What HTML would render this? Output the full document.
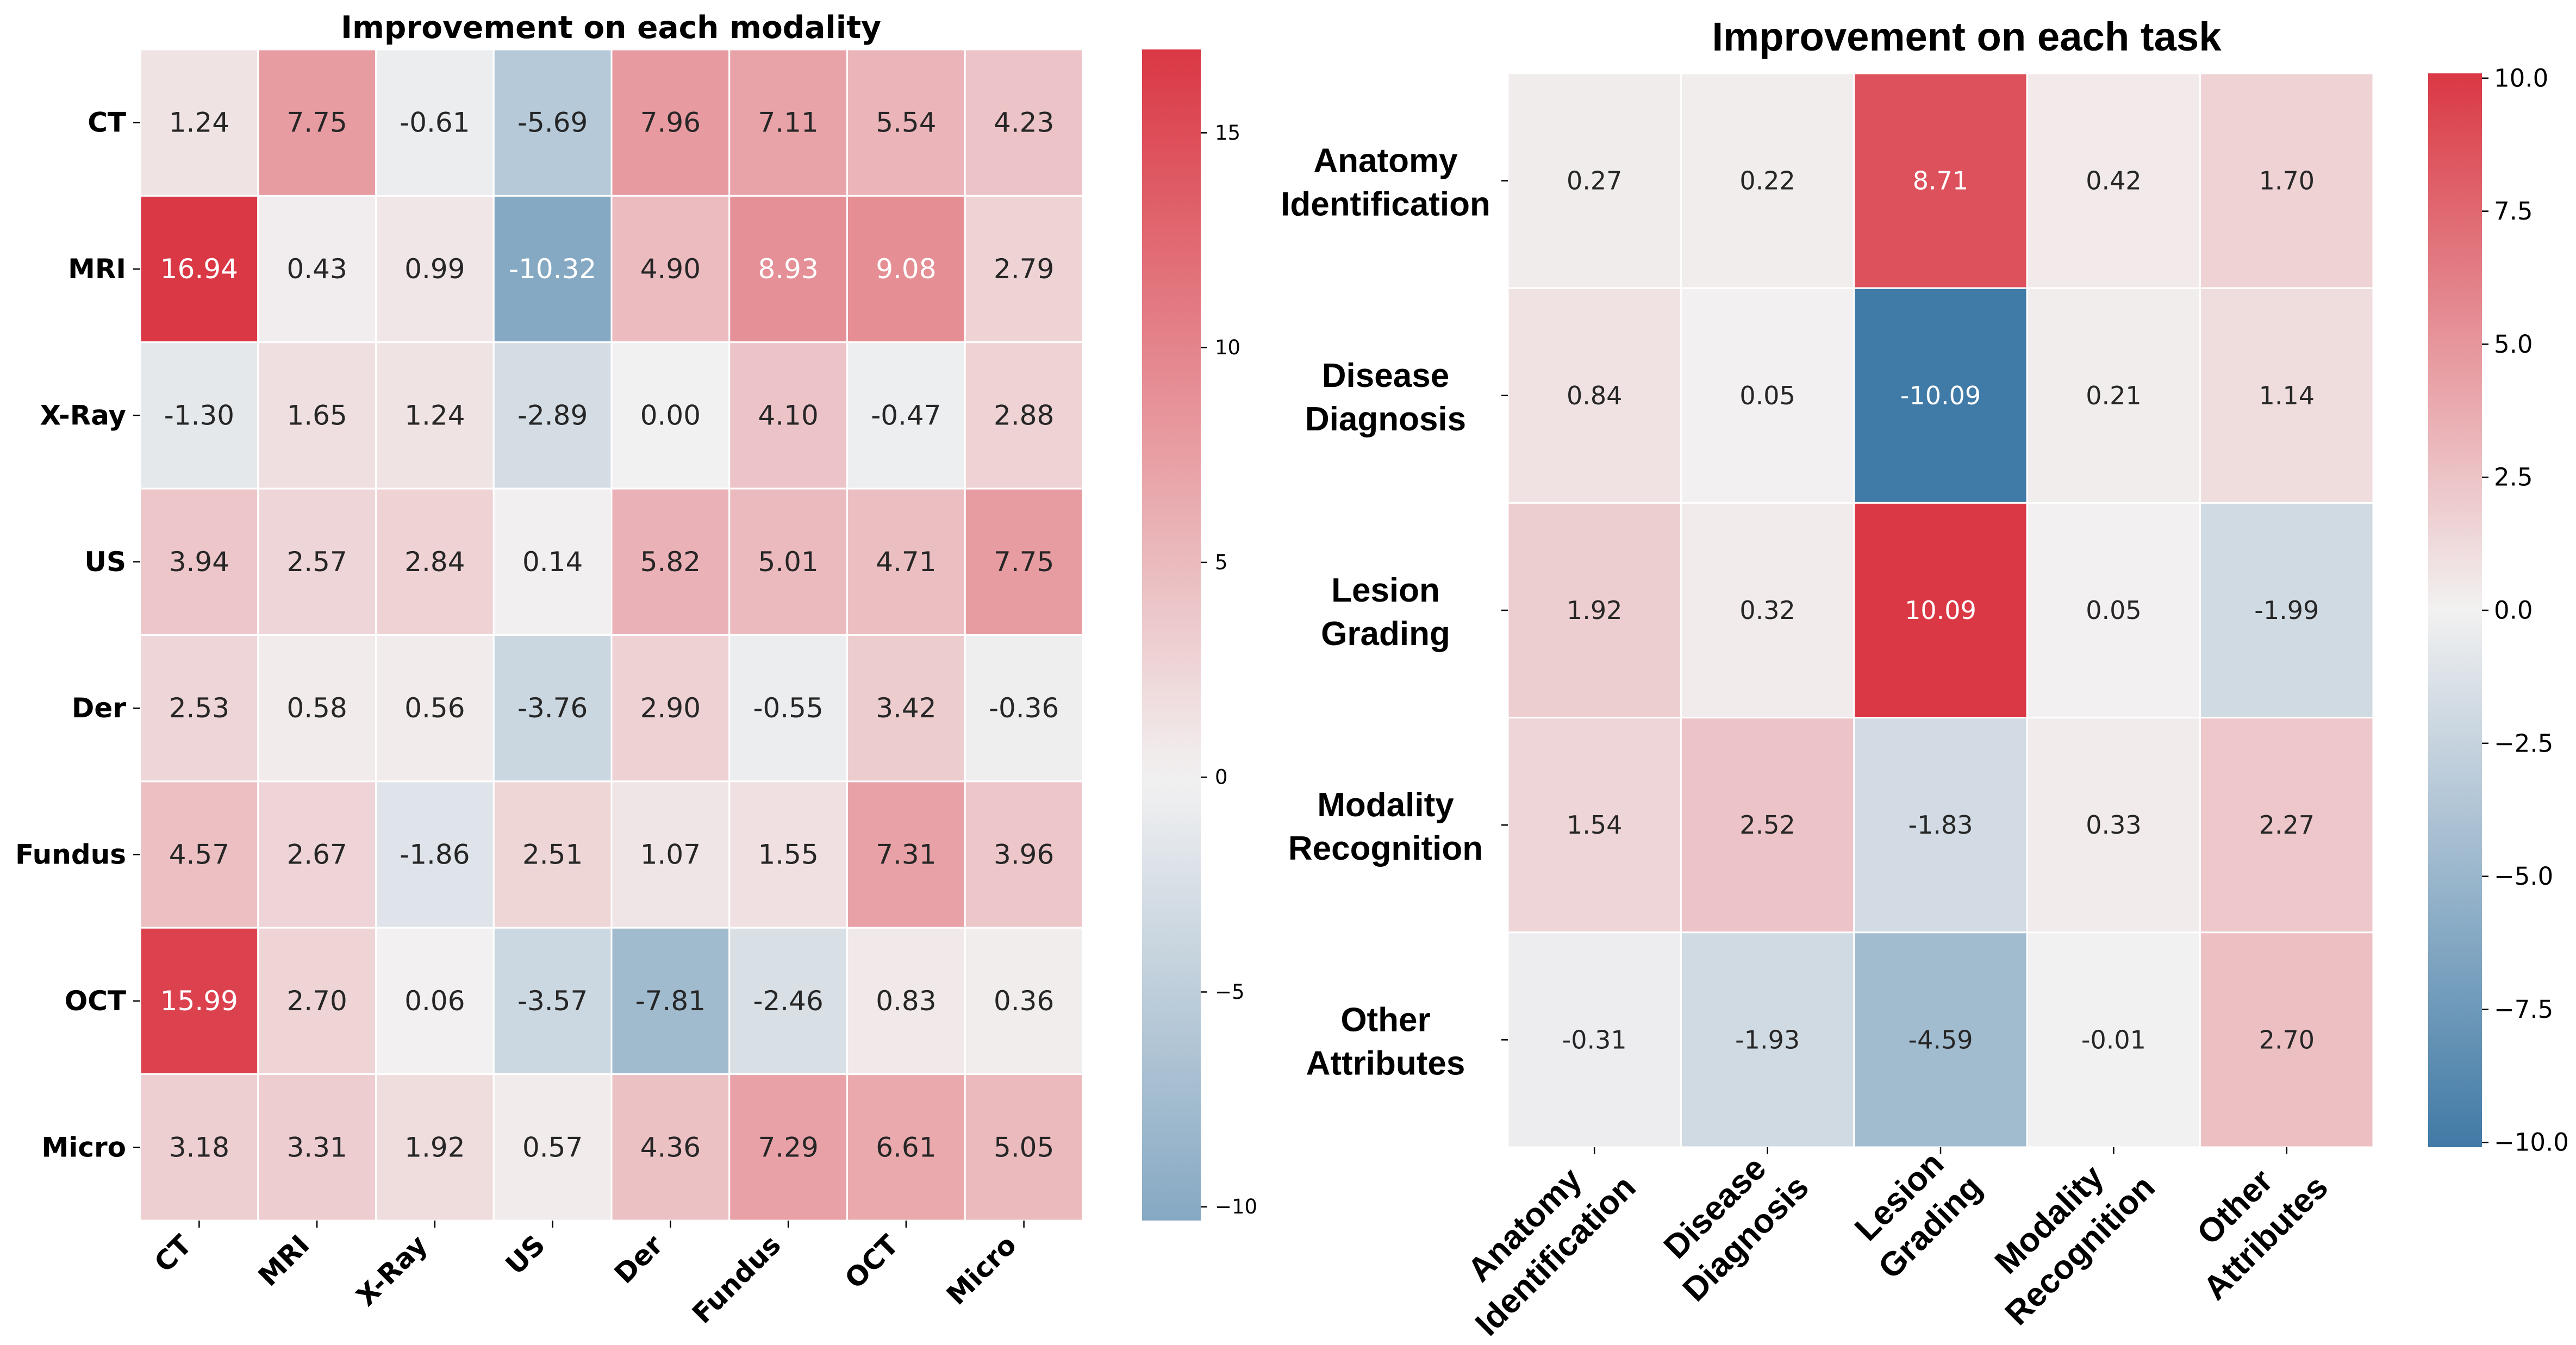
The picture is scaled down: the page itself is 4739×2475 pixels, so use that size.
<!DOCTYPE html>
<html><head><meta charset="utf-8"><style>
html,body{margin:0;padding:0;background:#fff;}
svg{display:block;}
</style></head><body>
<svg id="fig" xmlns="http://www.w3.org/2000/svg" width="4739" height="2475" viewBox="0 0 4739 2475">
<rect width="4739" height="2475" fill="#fff"/>
<defs>
<linearGradient id="gradL" x1="0" y1="1" x2="0" y2="0"></linearGradient>
<linearGradient id="gradR" x1="0" y1="1" x2="0" y2="0"></linearGradient>
</defs>
<text x="1124" y="70" text-anchor="middle" font-family="DejaVu Sans, sans-serif" font-weight="bold" font-size="57" textLength="994" lengthAdjust="spacingAndGlyphs">Improvement on each modality</text>
<text x="3618" y="93" text-anchor="middle" font-family="Liberation Sans, sans-serif" font-weight="bold" font-size="74" textLength="937" lengthAdjust="spacingAndGlyphs">Improvement on each task</text>
<g id="left"></g>
<g id="right"></g>
</svg>
<script>
// ---- data: left heatmap ----
const modRows = ["CT","MRI","X-Ray","US","Der","Fundus","OCT","Micro"];
const modCols = ["CT","MRI","X-Ray","US","Der","Fundus","OCT","Micro"];
const modValues = [
 [1.24,7.75,-0.61,-5.69,7.96,7.11,5.54,4.23],
 [16.94,0.43,0.99,-10.32,4.90,8.93,9.08,2.79],
 [-1.30,1.65,1.24,-2.89,0.00,4.10,-0.47,2.88],
 [3.94,2.57,2.84,0.14,5.82,5.01,4.71,7.75],
 [2.53,0.58,0.56,-3.76,2.90,-0.55,3.42,-0.36],
 [4.57,2.67,-1.86,2.51,1.07,1.55,7.31,3.96],
 [15.99,2.70,0.06,-3.57,-7.81,-2.46,0.83,0.36],
 [3.18,3.31,1.92,0.57,4.36,7.29,6.61,5.05]
];
const modTicks = [15,10,5,0,-5,-10];
// ---- data: right heatmap ----
const taskRows = [["Anatomy","Identification"],["Disease","Diagnosis"],["Lesion","Grading"],["Modality","Recognition"],["Other","Attributes"]];
const taskValues = [
 [0.27,0.22,8.71,0.42,1.70],
 [0.84,0.05,-10.09,0.21,1.14],
 [1.92,0.32,10.09,0.05,-1.99],
 [1.54,2.52,-1.83,0.33,2.27],
 [-0.31,-1.93,-4.59,-0.01,2.70]
];
const taskTicks = [10.0,7.5,5.0,2.5,0.0,-2.5,-5.0,-7.5,-10.0];

const NS="http://www.w3.org/2000/svg";
function mk(tag, attrs, parent){const e=document.createElementNS(NS,tag);for(const k in attrs)e.setAttribute(k,attrs[k]);parent.appendChild(e);return e;}
const BLUE=[64,122,166], MID=[242,241,241], RED=[218,56,68];
function cmap(t){
  t=Math.max(-1,Math.min(1,t));
  const e=t<0?BLUE:RED, a=Math.abs(t);
  return [0,1,2].map(i=>Math.round(MID[i]+(e[i]-MID[i])*a));
}
function css(c){return `rgb(${c[0]},${c[1]},${c[2]})`;}
function lum(c){const l=c.map(v=>{v/=255;return v<=0.03928?v/12.92:Math.pow((v+0.055)/1.055,2.4);});return .2126*l[0]+.7152*l[1]+.0722*l[2];}
function fmt(v){return v.toFixed(2);}
function flat(a){return [].concat(...a);}

function heat(g, values, o){
  const nr=values.length, nc=values[0].length;
  const cw=(o.x1-o.x0)/nc, ch=(o.y1-o.y0)/nr;
  const vals=flat(values);
  const vmaxAbs=Math.max(...vals.map(Math.abs));
  const vmin=Math.min(...vals), vmax=Math.max(...vals);
  const xs=c=>o.x0+c*cw, ys=r=>o.y0+r*ch;
  for(let r=0;r<nr;r++)for(let c=0;c<nc;c++){
    const v=values[r][c], col=cmap(v/vmaxAbs);
    const rc=mk('rect',{x:xs(c),y:ys(r),width:cw,height:ch,fill:css(col),stroke:'#fff','stroke-width':3},g);
    
    
    const t=mk('text',{x:xs(c)+cw/2,y:ys(r)+ch/2,'text-anchor':'middle','dominant-baseline':'central','font-family':'DejaVu Sans, sans-serif','font-size':o.vfs,fill:lum(col)>0.408?'#262626':'#ffffff'},g);
    t.textContent=fmt(v);
    
    
  }
  const grad=document.getElementById(o.grad);
  for(let i=0;i<=40;i++){const f=i/40, v=vmin+(vmax-vmin)*f;mk('stop',{offset:f,'stop-color':css(cmap(v/vmaxAbs))},grad);}
  const cb=mk('rect',{x:o.cbx0,y:o.y0,width:o.cbx1-o.cbx0,height:o.y1-o.y0,fill:`url(#${o.grad})`},g);
  
  
  const cy=v=>o.y1-(v-vmin)/(vmax-vmin)*(o.y1-o.y0);
  o.ticks.forEach(v=>{
    const y=cy(v);
    mk('line',{x1:o.cbx1,x2:o.cbx1+12,y1:y,y2:y,stroke:'#000','stroke-width':2.5},g);
    const t=mk('text',{x:o.cbx1+o.cbpad,y:y,'dominant-baseline':'central','font-family':'DejaVu Sans, sans-serif','font-size':o.cbfs},g);
    t.textContent=(v<0?'\u2212':'')+Math.abs(v).toFixed(o.dec);
    
    
  });
  return {xs,ys,cw,ch};
}

// left
const gl=document.getElementById('left');
const L=heat(gl,modValues,{x0:258,x1:1992,y0:91,y1:2246,vfs:50,grad:'gradL',cbx0:2101,cbx1:2209,cbpad:26,cbfs:37,ticks:modTicks,dec:0});
modRows.forEach((n,r)=>{
  const y=L.ys(r)+L.ch/2;
  mk('line',{x1:245,x2:258,y1:y,y2:y,stroke:'#000','stroke-width':2.5},gl);
  const t=mk('text',{x:232,y:y,'text-anchor':'end','dominant-baseline':'central','font-family':'DejaVu Sans, sans-serif','font-weight':'bold','font-size':50},gl);
  t.textContent=n;
  
  
});
modCols.forEach((n,c)=>{
  const x=L.xs(c)+L.cw/2;
  mk('line',{x1:x,x2:x,y1:2246,y2:2259,stroke:'#000','stroke-width':2.5},gl);
  const t=mk('text',{x:0,y:0,transform:`translate(${x-23},2282) rotate(-45)`,'text-anchor':'end','dominant-baseline':'central','font-family':'DejaVu Sans, sans-serif','font-weight':'bold','font-size':50},gl);
  t.textContent=n;
  
  
});

// right
const gr=document.getElementById('right');
const R=heat(gr,taskValues,{x0:2774,x1:4366,y0:135,y1:2111,vfs:46,grad:'gradR',cbx0:4467,cbx1:4566,cbpad:22,cbfs:45,ticks:taskTicks,dec:1});
taskRows.forEach((n,r)=>{
  const y=R.ys(r)+R.ch/2;
  mk('line',{x1:2762,x2:2774,y1:y,y2:y,stroke:'#000','stroke-width':2.5},gr);
  const t=mk('text',{x:2549,y:y-16,'text-anchor':'middle','font-family':'Liberation Sans, sans-serif','font-weight':'bold','font-size':62},gr);
  
  
  const a=mk('tspan',{x:2549,y:y-16},t);a.textContent=n[0];
  const b=mk('tspan',{x:2549,y:y+64},t);b.textContent=n[1];
});
taskRows.forEach((n,c)=>{
  const x=R.xs(c)+R.cw/2;
  mk('line',{x1:x,x2:x,y1:2111,y2:2123,stroke:'#000','stroke-width':2.5},gr);
  const g=mk('g',{transform:`translate(${x+14},2112) rotate(-45)`},gr);
  
  
  const ts=n.map((s,i)=>{const t=mk('text',{x:0,y:i*80,'text-anchor':'middle','dominant-baseline':'central','font-family':'Liberation Sans, sans-serif','font-weight':'bold','font-size':62},g);t.textContent=s;return t;});
  const W=Math.max(...ts.map(t=>t.getComputedTextLength()));
  ts.forEach(t=>t.setAttribute('x',-W/2-8));
});
</script>
</body></html>
